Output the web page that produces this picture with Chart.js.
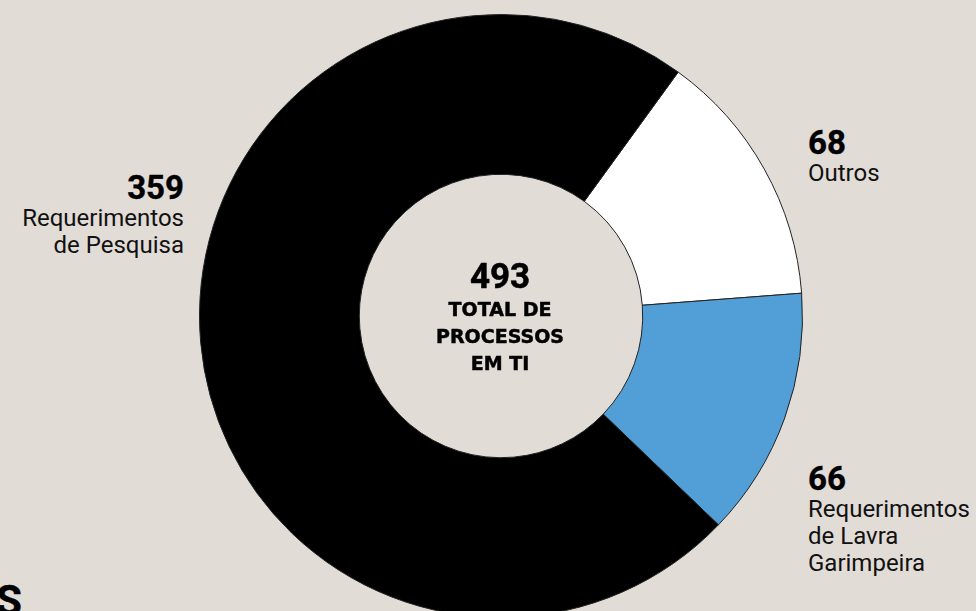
<!DOCTYPE html>
<html>
<head>
<meta charset="utf-8">
<script src="https://cdn.jsdelivr.net/npm/chart.js@4/dist/chart.umd.min.js"></script>
<style>
  html, body { margin: 0; padding: 0; width: 976px; height: 611px; overflow: hidden; background: #e2dcd7; }
  #wrap { position: absolute; left: 199px; top: 14px; width: 604px; height: 604px; }
  .num { font-family: Roboto, "Liberation Sans", sans-serif; font-weight: 700; font-size: 33px; line-height: 34px; color: #000; -webkit-text-stroke: 0.4px #000; }
  .lbl { font-family: Roboto, "Liberation Sans", sans-serif; font-weight: 400; font-size: 24px; line-height: 27px; color: #111; }
  .box { position: absolute; }
  #center { position: absolute; left: 400px; top: 258px; width: 200px; text-align: center; }
  #center .big { font-family: Roboto, sans-serif; font-weight: 700; font-size: 35px; line-height: 38px; -webkit-text-stroke: 0.5px #000; }
  #center .sub { font-family: "DejaVu Sans", sans-serif; font-weight: 700; font-size: 19px; line-height: 27px; -webkit-text-stroke: 0.5px #000; }
</style>
</head>
<body>
<div id="wrap"><canvas id="c"></canvas></div>

<div class="box" style="right:792px; top:171px; text-align:right;">
  <div class="num" id="v0"></div>
  <div class="lbl" id="l0"></div>
</div>
<div class="box" style="left:808px; top:126px;">
  <div class="num" id="v1"></div>
  <div class="lbl" id="l1"></div>
</div>
<div class="box" style="left:808px; top:462px;">
  <div class="num" id="v2"></div>
  <div class="lbl" id="l2"></div>
</div>
<div id="center">
  <div class="big" id="total"></div>
  <div class="sub" id="sub"></div>
</div>
<div class="box" style="left:-4px; top:580px; font-family: Roboto, sans-serif; font-weight:700; font-size:42px; line-height:42px; -webkit-text-stroke: 0.5px #000;">S</div>

<script>
// Data (clockwise from the white slice)
const categories = ["Outros", "Requerimentos de Lavra Garimpeira", "Requerimentos de Pesquisa"];
const labelLines = [["Outros"], ["Requerimentos", "de Lavra", "Garimpeira"], ["Requerimentos", "de Pesquisa"]];
const values = [68, 66, 359];
const centerTitle = ["TOTAL DE", "PROCESSOS", "EM TI"];
const colors = ["#ffffff", "#519fd6", "#000000"];

const total = values.reduce((a, b) => a + b, 0);
document.getElementById("total").textContent = total;
document.getElementById("sub").innerHTML = centerTitle.join("<br>");
document.getElementById("v0").textContent = values[2];
document.getElementById("l0").innerHTML = labelLines[2].join("<br>");
document.getElementById("v1").textContent = values[0];
document.getElementById("l1").innerHTML = labelLines[0].join("<br>");
document.getElementById("v2").textContent = values[1];
document.getElementById("l2").innerHTML = labelLines[1].join("<br>");

new Chart(document.getElementById("c"), {
  type: "doughnut",
  data: {
    labels: categories,
    datasets: [{
      data: values,
      backgroundColor: colors,
      borderColor: "#222222",
      borderWidth: 1,
      hoverOffset: 0
    }]
  },
  options: {
    responsive: true,
    maintainAspectRatio: false,
    animation: false,
    rotation: 36,
    cutout: "47%",
    layout: { padding: 0 },
    events: [],
    plugins: { legend: { display: false }, tooltip: { enabled: false } }
  }
});
</script>
</body>
</html>
